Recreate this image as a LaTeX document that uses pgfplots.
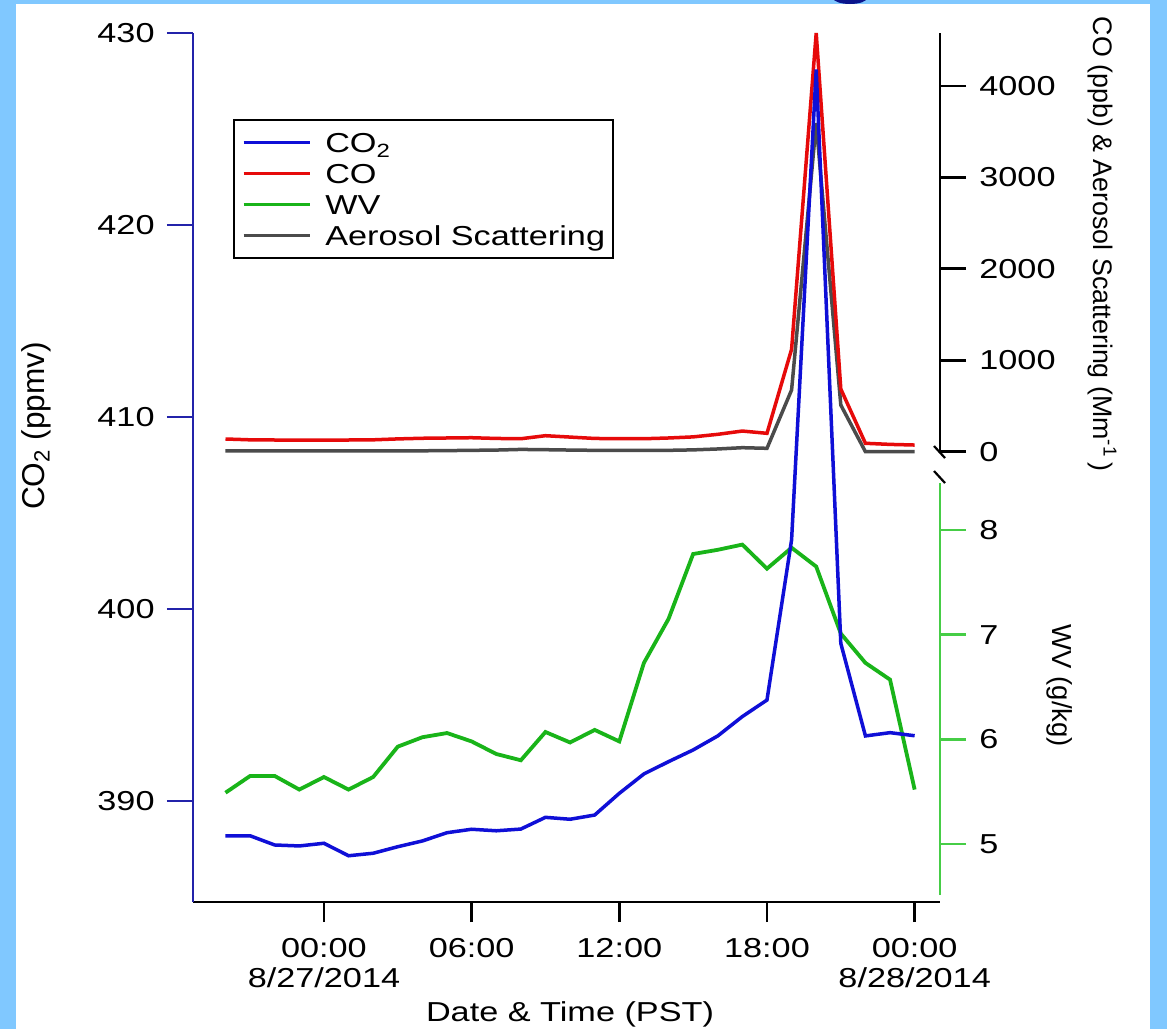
\documentclass[border=0pt]{standalone}
\usepackage{fontspec}
\setmainfont{Liberation Sans}[FakeStretch=1.25]
\newfontfamily\rotfont{Liberation Sans}
\usepackage{pgfplots}
\pgfplotsset{compat=1.18}

\definecolor{bgblue}{RGB}{128,200,255}
\definecolor{titleblue}{RGB}{10,20,140}
\definecolor{axnavy}{RGB}{35,35,170}
\definecolor{co2blue}{RGB}{15,15,215}
\definecolor{cored}{RGB}{230,10,10}
\definecolor{wvgreen}{RGB}{25,180,25}
\definecolor{wvaxis}{RGB}{70,205,70}
\definecolor{aerogray}{RGB}{75,75,75}

\newdimen\px \px=0.5pt
\newcommand\tf{\fontsize{13.7}{16.5}\selectfont}

% hourly values, hours relative to 00:00 on 8/27/2014
\pgfplotstableread{
h    co2     co    aero  wv
-4   388.19  139   8     5.49
-3   388.19  130   8     5.65
-2   387.71  128   8     5.65
-1   387.66  128   8     5.52
0    387.80  128   8     5.64
1    387.15  128   8     5.52
2    387.28  130   8     5.64
3    387.62  140   8     5.93
4    387.92  147   10    6.02
5    388.35  150   12    6.06
6    388.53  153   15    5.98
7    388.45  145   18    5.86
8    388.54  142   25    5.80
9    389.15  175   22    6.07
10   389.05  160   18    5.97
11   389.27  145   15    6.09
12   390.40  142   15    5.98
13   391.41  142   15    6.73
14   392.05  150   15    7.15
15   392.66  162   20    7.77
16   393.39  190   30    7.81
17   394.40  226   44    7.86
18   395.26  201   37    7.63
19   403.60  1120  675   7.83
20   428.10  4578  3593  7.65
21   398.21  685   510   7.01
22   393.39  92    0     6.73
23   393.56  80    0     6.57
24   393.40  73    0     5.52
}\datatable

\pgfplotsset{
  base/.style={
    scale only axis, width=747\px, xmin=-5.32, xmax=25.03,
    clip=false, tick align=outside, major tick length=26\px,
    font=\tf, /pgf/number format/assume math mode=true,
    /pgf/number format/1000 sep={}, scaled y ticks=false,
    yticklabel style={inner sep=0pt},
    xticklabel style={inner sep=0pt},
  },
  rightscale/.style={
    axis x line=none, axis y line*=right,
    yticklabel style={xshift=13\px},
  },
}

\begin{document}
\begin{tikzpicture}
\useasboundingbox (0,0) rectangle (1167\px,-1029\px);
\fill[bgblue] (0,0) rectangle (1167\px,-1029\px);
\fill[white] (16\px,-4\px) rectangle (1150\px,-1029\px);
\begin{scope}
  \clip (0,0) rectangle (1167\px,-4\px);
  \fill[titleblue] (425pt,1pt) ellipse [x radius=8.5pt, y radius=3pt];
\end{scope}

% CO and aerosol scattering, upper right scale
\begin{axis}[base, rightscale, at={(193\px,-451.7\px)}, anchor=south west,
  height=418.7\px, ymin=0, ymax=4578,
  ytick={0,1000,2000,3000,4000},
  y axis line style={black, line width=1.3pt},
  ytick style={black, line width=1.3pt}]
\addplot[aerogray, line width=1.75pt] table[x=h, y=aero] {\datatable};
\addplot[cored, line width=1.75pt] table[x=h, y=co] {\datatable};
\end{axis}

% water vapour, lower right scale
\begin{axis}[base, rightscale, at={(193\px,-895\px)}, anchor=south west,
  height=412\px, ymin=4.513, ymax=8.448,
  ytick={5,6,7,8},
  y axis line style={wvaxis, line width=1.4pt},
  ytick style={wvaxis, line width=1.4pt}]
\addplot[wvgreen, line width=1.9pt] table[x=h, y=wv] {\datatable};
\end{axis}

% CO2, left scale, and time axis
\begin{axis}[base, at={(193\px,-902\px)}, anchor=south west,
  height=869\px, ymin=384.74, ymax=430,
  axis x line*=bottom, axis y line*=left,
  ytick={390,400,410,420,430},
  yticklabel style={xshift=-12\px},
  xtick={0,6,12,18,24},
  xticklabels={{00:00\\8/27/2014},06:00,12:00,18:00,{00:00\\8/28/2014}},
  xticklabel style={align=center, yshift=-10\px,
    font=\fontsize{13.7}{15.2}\selectfont},
  x axis line style={black, line width=1.3pt},
  xtick style={black, line width=1.3pt, /pgfplots/major tick length=20\px},
  y axis line style={axnavy, line width=1.4pt},
  ytick style={axnavy, line width=1.4pt},
  legend style={at={(0.0535,0.901)}, anchor=north west, draw=black,
    line width=1.1pt, fill=white, font=\tf, inner xsep=8\px, inner ysep=6.8\px,
    nodes={inner sep=0pt, text height=12.9pt, text depth=2.6pt},
    column sep=14\px},
  legend cell align=left,
  legend image code/.code={\draw[#1] (0pt,0pt) -- (33pt,0pt);}]
\addlegendimage{co2blue, line width=1.6pt}
\addlegendentry{CO\textsubscript{2}}
\addlegendimage{cored, line width=1.6pt}
\addlegendentry{CO}
\addlegendimage{wvgreen, line width=1.6pt}
\addlegendentry{WV}
\addlegendimage{aerogray, line width=1.6pt}
\addlegendentry{Aerosol Scattering}
\addplot[co2blue, line width=1.75pt] table[x=h, y=co2] {\datatable};
\end{axis}

% axis break marks
\draw[black, line width=1.1pt] (467pt,-223pt) -- (472.5pt,-229pt);
\draw[black, line width=1.1pt] (467pt,-235.5pt) -- (472.5pt,-241.5pt);

% axis titles
\node[rotate=90, font=\rotfont\fontsize{15.8}{18}\selectfont] at (18pt,-213pt) {CO\textsubscript{2} (ppmv)};
\node[rotate=-90, font=\rotfont\fontsize{13.4}{16}\selectfont] at (551pt,-122pt) {CO (ppb) \& Aerosol Scattering (Mm\textsuperscript{-1}\,)};
\node[rotate=-90, font=\rotfont\fontsize{13.75}{16}\selectfont] at (530pt,-343pt) {WV (g/kg)};
\node[anchor=base, font=\tf] at (285pt,-510.85pt) {Date \& Time (PST)};
\end{tikzpicture}
\end{document}
